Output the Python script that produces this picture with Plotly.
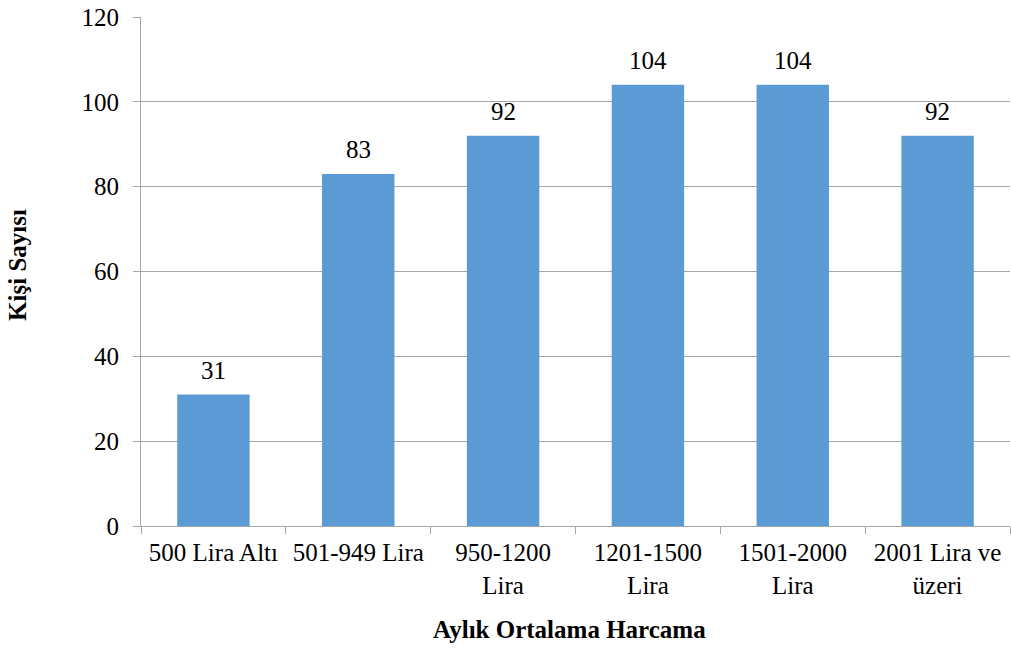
import plotly.graph_objects as go

categories = ["500 Lira Altı", "501-949 Lira", "950-1200<br>Lira", "1201-1500<br>Lira",
              "1501-2000<br>Lira", "2001 Lira ve<br>üzeri"]
values = [31, 83, 92, 104, 104, 92]
y_ticks = [0, 20, 40, 60, 80, 100, 120]

FONT = "Liberation Serif"
SIZE = 25
fig = go.Figure(go.Bar(
    x=categories, y=values, width=0.5,
    marker=dict(color="#5B9BD5", line=dict(width=0)),
    hoverinfo="skip",
))
for c, v in zip(categories, values):
    fig.add_annotation(x=c, y=v, text=str(v), showarrow=False, yanchor="bottom",
                       yshift=9, font=dict(family=FONT, size=SIZE, color="black"))
fig.add_annotation(xref="paper", yref="paper", x=0.5, y=-0.204, xshift=-6,
                   text="<b>Aylık Ortalama Harcama</b>", showarrow=False,
                   yanchor="middle", font=dict(family=FONT, size=SIZE, color="black"))
fig.add_annotation(xref="paper", yref="paper", x=0, y=0.513, xshift=-123,
                   xanchor="center", yanchor="middle",
                   text="<b>Kişi Sayısı</b>", showarrow=False, textangle=-90,
                   font=dict(family=FONT, size=SIZE, color="black"))
fig.update_layout(
    width=1011, height=648,
    margin=dict(l=141, r=1, t=17, b=122, autoexpand=False),
    paper_bgcolor="white", plot_bgcolor="white",
    font=dict(family=FONT, size=SIZE, color="black"),
    showlegend=False,
)
fig.update_xaxes(
    type="category", showline=True, linecolor="#A6A6A6", linewidth=1,
    ticks="outside", tickson="boundaries", ticklen=7, tickcolor="#A6A6A6",
    showgrid=False, tickfont=dict(family=FONT, size=SIZE), automargin=False,
    ticklabelstandoff=4,
)
fig.update_yaxes(
    range=[0, 120], tickvals=y_ticks, showline=True, linecolor="#A6A6A6", linewidth=1,
    ticks="outside", ticklen=7, tickcolor="#A6A6A6",
    showgrid=True, gridcolor="#A6A6A6", gridwidth=1, zeroline=False,
    tickfont=dict(family=FONT, size=SIZE), automargin=False,
    ticklabelstandoff=9,
)
fig.write_html("out.html", config={"displayModeBar": False},
               post_script="document.body.style.margin='0';document.documentElement.style.margin='0';")
